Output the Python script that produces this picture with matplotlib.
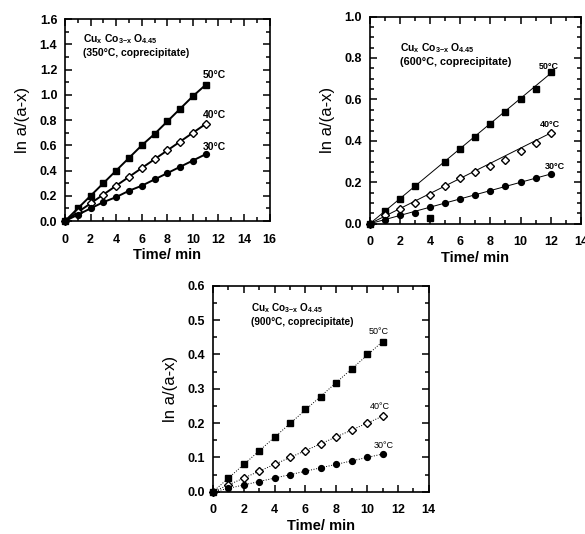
import numpy as np
import matplotlib
matplotlib.use("Agg")
import matplotlib.pyplot as plt
from matplotlib.ticker import MultipleLocator

plt.rcParams['font.family'] = ['Liberation Sans', 'DejaVu Sans']
plt.rcParams['mathtext.fontset'] = 'custom'
plt.rcParams['mathtext.rm'] = 'Liberation Sans:bold'
plt.rcParams['mathtext.it'] = 'Liberation Sans:bold'
plt.rcParams['mathtext.bf'] = 'Liberation Sans:bold'
plt.rcParams['mathtext.default'] = 'rm'

# dados
t11 = [0, 1, 2, 3, 4, 5, 6, 7, 8, 9, 10, 11]
t12 = [0, 1, 2, 3, 4, 5, 6, 7, 8, 9, 10, 11, 12]

# 350 C
a50 = [0, 0.10, 0.20, 0.30, 0.40, 0.50, 0.60, 0.69, 0.79, 0.89, 0.99, 1.08]
a40 = [0, 0.07, 0.14, 0.21, 0.28, 0.35, 0.42, 0.49, 0.56, 0.63, 0.70, 0.77]
a30 = [0, 0.05, 0.10, 0.15, 0.19, 0.24, 0.28, 0.33, 0.38, 0.43, 0.48, 0.53]

# 600 C (ponto t=4 do 50 C aparece fora da reta)
b50 = [0, 0.06, 0.12, 0.18, 0.03, 0.30, 0.36, 0.42, 0.48, 0.54, 0.60, 0.65, 0.73]
b40 = [0, 0.04, 0.07, 0.10, 0.14, 0.18, 0.22, 0.25, 0.28, 0.31, 0.35, 0.39, 0.44]
b30 = [0, 0.02, 0.04, 0.05, 0.08, 0.10, 0.12, 0.14, 0.16, 0.18, 0.20, 0.22, 0.24]
b_slopes = [0.0605, 0.0365, 0.020]

# 900 C
c50 = [0, 0.04, 0.08, 0.12, 0.16, 0.20, 0.24, 0.275, 0.317, 0.357, 0.40, 0.437]
c40 = [0, 0.02, 0.04, 0.06, 0.08, 0.10, 0.12, 0.14, 0.16, 0.18, 0.20, 0.22]
c30 = [0, 0.01, 0.02, 0.03, 0.04, 0.05, 0.06, 0.07, 0.08, 0.09, 0.10, 0.11]

temps = ["50°C", "40°C", "30°C"]
markers = ['s', 'D', 'o']
faces = ['black', 'white', 'black']
msizes = [4.5, 3.8, 4.2]
formula = "Cu$_{x}$ Co$_{3\\mathrm{-}x}$ O$_{4.45}$"

fig = plt.figure(figsize=(5.85, 5.34), dpi=100)
ax1 = fig.add_axes([0.111, 0.586, 0.350, 0.378])
ax2 = fig.add_axes([0.632, 0.581, 0.361, 0.388])
ax3 = fig.add_axes([0.364, 0.079, 0.369, 0.386])


def estilo(ax, xmax, ymax, ymaj, ymin):
    ax.set_xlim(0, xmax)
    ax.set_ylim(0, ymax)
    ax.xaxis.set_major_locator(MultipleLocator(2))
    ax.xaxis.set_minor_locator(MultipleLocator(1))
    ax.yaxis.set_major_locator(MultipleLocator(ymaj))
    ax.yaxis.set_minor_locator(MultipleLocator(ymin))
    ax.tick_params(which='both', direction='in', top=True, right=True, width=1.1)
    ax.tick_params(which='major', length=5, labelsize=9)
    ax.tick_params(which='minor', length=3)
    ax.tick_params(axis='x', which='major', pad=9)
    ax.tick_params(axis='y', which='major', pad=5.5)
    ax.yaxis.set_major_formatter(plt.FormatStrFormatter('%.1f'))
    for lab in ax.get_xticklabels() + ax.get_yticklabels():
        lab.set_fontweight('bold')
    for s in ax.spines.values():
        s.set_linewidth(1.2)
    ax.set_xlabel("Time/ min", fontsize=10.5, fontweight='bold', labelpad=2)
    ax.set_ylabel("ln a/(a-x)", fontsize=12, labelpad=7)


# painel 1: pontos ligados
for y, m, fc, ms in zip([a50, a40, a30], markers, faces, msizes):
    ax1.plot(t11, y, color='black', lw=1.4, marker=m, mfc=fc, mec='black',
             mew=1.0, ms=ms, clip_on=False)
estilo(ax1, 16, 1.6, 0.2, 0.1)
ax1.text(1.4, 1.44, formula, fontsize=7.5, fontweight='bold', va='center')
ax1.text(1.4, 1.33, "(350°C, coprecipitate)", fontsize=7.5, fontweight='bold', va='center')
for txt, (x, y) in zip(temps, [(10.8, 1.16), (10.8, 0.84), (10.8, 0.59)]):
    ax1.text(x, y, txt, fontsize=7.5, fontweight='bold', va='center')

# painel 2: retas ajustadas
tt = np.array([0, 12])
for y, m, fc, ms, k in zip([b50, b40, b30], markers, faces, msizes, b_slopes):
    ax2.plot(tt, k * tt, color='black', lw=0.7)
    ax2.plot(t12, y, ls='none', marker=m, mfc=fc, mec='black', mew=1.0,
             ms=ms, clip_on=False)
estilo(ax2, 14, 1.0, 0.2, 0.05)
ax2.text(2.0, 0.85, formula, fontsize=7.5, fontweight='bold', va='center')
ax2.text(2.0, 0.78, "(600°C, coprecipitate)", fontsize=7.8, fontweight='bold', va='center')
for txt, (x, y) in zip(temps, [(11.2, 0.76), (11.3, 0.48), (11.6, 0.275)]):
    ax2.text(x, y, txt, fontsize=6.5, fontweight='bold', va='center')

# painel 3: retas pontilhadas
tt = np.array([0, 11])
for y, m, fc, ms in zip([c50, c40, c30], markers, faces, msizes):
    k = np.sum(np.array(t11) * np.array(y)) / np.sum(np.array(t11) ** 2)
    ax3.plot(tt, k * tt, color='black', lw=0.7, ls=':')
    ax3.plot(t11, y, ls='none', marker=m, mfc=fc, mec='black', mew=1.0,
             ms=ms, clip_on=False)
estilo(ax3, 14, 0.6, 0.1, 0.05)
ax3.text(2.5, 0.535, formula, fontsize=7.2, fontweight='bold', va='center')
ax3.text(2.5, 0.495, "(900°C, coprecipitate)", fontsize=7.2, fontweight='bold', va='center')
for txt, (x, y) in zip(temps, [(10.1, 0.466), (10.2, 0.248), (10.4, 0.134)]):
    ax3.text(x, y, txt, fontsize=6.5, va='center')

fig.savefig("out.png", dpi=100)
